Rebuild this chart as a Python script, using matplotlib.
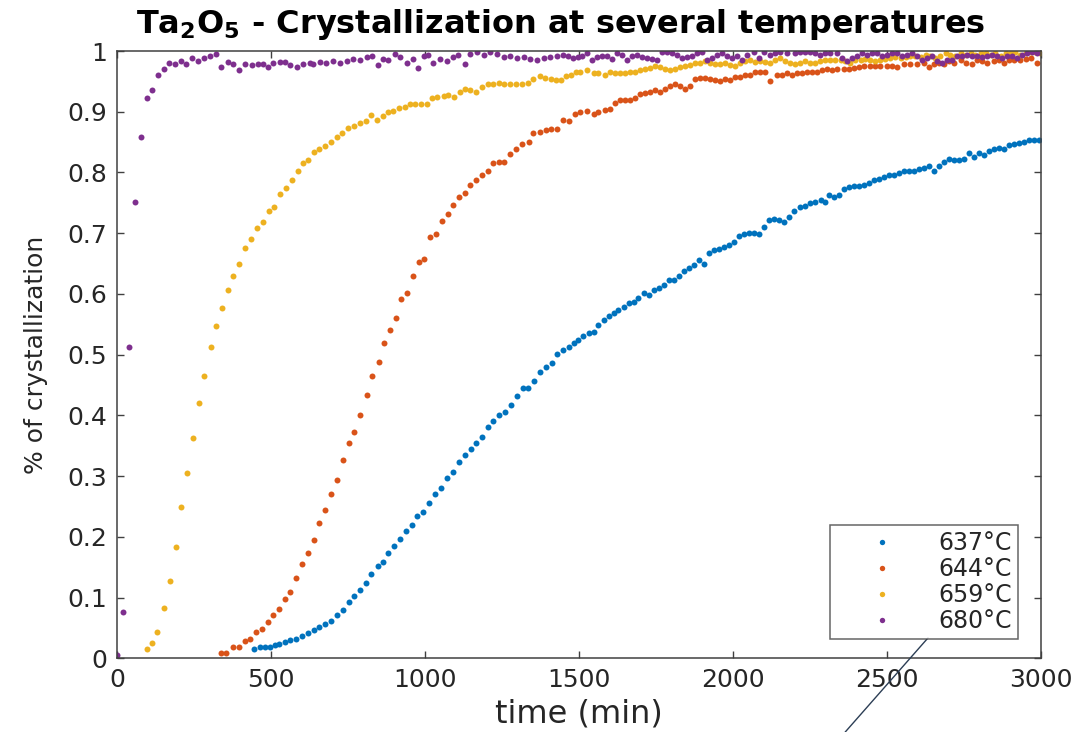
import matplotlib
matplotlib.use("Agg")
import matplotlib.pyplot as plt

# crystallized fraction vs time, one series per annealing temperature
t_637 = [446, 465, 481, 497, 513, 527, 544, 563, 582, 600, 620, 638, 657, 676, 694, 713, 732, 752, 770, 789,
         808, 826, 846, 864, 881, 900, 919, 937, 957, 975, 994, 1013, 1032, 1051,
         1070, 1092, 1111, 1130, 1148, 1165, 1186, 1203, 1222, 1241, 1259, 1279, 1297, 1317, 1335, 1355, 1373, 1393,
         1411, 1430, 1449, 1466, 1482, 1498, 1514, 1531, 1547, 1563, 1580, 1596, 1612, 1628, 1645, 1661, 1677, 1693,
         1710, 1726, 1742, 1758, 1775, 1791, 1807, 1823, 1840, 1856, 1872, 1888, 1905, 1921, 1937, 1953, 1970, 1986,
         2002, 2018, 2035, 2051, 2067, 2083, 2100, 2116, 2132, 2148, 2165, 2181,
         2198, 2219, 2235, 2251, 2267, 2284, 2300, 2313, 2327, 2343, 2360, 2376, 2392, 2408, 2425, 2441, 2457, 2473,
         2490, 2506, 2522, 2538, 2555, 2571, 2587, 2603, 2620, 2636, 2652, 2668, 2684, 2701, 2717, 2733, 2749, 2765,
         2782, 2798, 2814, 2830, 2847, 2863, 2879, 2895, 2912, 2928, 2944, 2960, 2977, 2993]
y_637 = [0.015, 0.018, 0.019, 0.018, 0.022, 0.023, 0.026, 0.030, 0.031, 0.036, 0.041, 0.047, 0.052, 0.056, 0.062,
         0.072, 0.080, 0.092, 0.103, 0.113, 0.124, 0.139, 0.152, 0.158, 0.174, 0.185, 0.196, 0.209, 0.220, 0.234,
         0.241, 0.255, 0.271, 0.281,
         0.297, 0.307, 0.324, 0.335, 0.344, 0.354, 0.365, 0.381, 0.391, 0.401, 0.405, 0.417, 0.432, 0.445, 0.445,
         0.457, 0.471, 0.480, 0.486, 0.501, 0.508, 0.513, 0.519, 0.524, 0.530, 0.536, 0.538, 0.549, 0.557, 0.563,
         0.568, 0.574, 0.579, 0.585, 0.587, 0.593, 0.601, 0.598, 0.606, 0.610, 0.615, 0.623, 0.623, 0.630, 0.637,
         0.642, 0.648, 0.656, 0.650, 0.667, 0.673, 0.674, 0.678, 0.681, 0.686, 0.695, 0.699, 0.700, 0.700, 0.699,
         0.711, 0.722, 0.723, 0.722, 0.719, 0.727,
         0.736, 0.743, 0.745, 0.750, 0.752, 0.754, 0.752, 0.763, 0.759, 0.763, 0.773, 0.776, 0.777, 0.777, 0.780,
         0.782, 0.787, 0.789, 0.793, 0.796, 0.796, 0.799, 0.802, 0.802, 0.803, 0.806, 0.807, 0.810, 0.802, 0.810,
         0.818, 0.822, 0.821, 0.820, 0.822, 0.832, 0.825, 0.832, 0.829, 0.835, 0.839, 0.840, 0.839, 0.846, 0.847,
         0.848, 0.851, 0.854, 0.854, 0.853]

t_644 = [336, 354, 376, 395, 414, 432, 451, 470, 489, 505, 527, 544, 563, 582, 600, 620, 638, 657, 676, 694,
         713, 732, 752, 770, 789,
         810, 827, 849, 868, 885, 906, 921, 943, 960, 979, 998, 1017, 1036, 1054, 1074, 1092, 1110, 1130, 1146, 1165,
         1184, 1203, 1222, 1240, 1257, 1276, 1296, 1314, 1336, 1352,
         1372, 1392, 1410, 1430, 1449, 1468, 1487, 1504, 1525, 1547, 1563, 1585, 1601, 1617, 1634, 1650, 1666, 1682,
         1699, 1715, 1731, 1747, 1764, 1780, 1796, 1812, 1829, 1845, 1861, 1877, 1894, 1910, 1926, 1942, 1959, 1975,
         1991, 2007, 2024, 2040, 2056, 2072, 2089, 2105, 2121, 2142, 2159, 2175,
         2192, 2208, 2224, 2240, 2256, 2272, 2288, 2304, 2320, 2338, 2359, 2376, 2392, 2408, 2424, 2446, 2462, 2478,
         2500, 2516, 2533, 2554, 2576, 2598, 2619, 2635, 2652, 2668, 2684, 2701, 2717, 2739, 2755, 2776, 2793, 2809,
         2825, 2847, 2863, 2879, 2896, 2912, 2933, 2950, 2966, 2988]
y_644 = [0.008, 0.009, 0.018, 0.018, 0.028, 0.031, 0.044, 0.048, 0.059, 0.072, 0.081, 0.098, 0.109, 0.133, 0.155,
         0.174, 0.194, 0.222, 0.244, 0.271, 0.294, 0.327, 0.354, 0.372, 0.401,
         0.433, 0.465, 0.488, 0.519, 0.540, 0.560, 0.591, 0.602, 0.629, 0.653, 0.657, 0.694, 0.699, 0.720, 0.731,
         0.746, 0.759, 0.767, 0.779, 0.787, 0.796, 0.803, 0.815, 0.818, 0.817, 0.831, 0.839, 0.847, 0.850, 0.865,
         0.866, 0.870, 0.872, 0.872, 0.886, 0.884, 0.897, 0.899, 0.901, 0.897, 0.899, 0.903, 0.905, 0.915, 0.919,
         0.920, 0.920, 0.923, 0.930, 0.931, 0.933, 0.935, 0.933, 0.937, 0.943, 0.946, 0.943, 0.937, 0.942, 0.954,
         0.955, 0.955, 0.954, 0.952, 0.950, 0.954, 0.953, 0.957, 0.958, 0.961, 0.961, 0.965, 0.966, 0.966, 0.950,
         0.961, 0.961, 0.963,
         0.961, 0.963, 0.964, 0.966, 0.965, 0.966, 0.968, 0.970, 0.969, 0.970, 0.970, 0.970, 0.972, 0.974, 0.976,
         0.975, 0.976, 0.975, 0.976, 0.975, 0.974, 0.979, 0.978, 0.979, 0.980, 0.974, 0.979, 0.981, 0.979, 0.983,
         0.980, 0.985, 0.981, 0.979, 0.985, 0.983, 0.981, 0.983, 0.985, 0.980, 0.985, 0.985, 0.985, 0.987, 0.989,
         0.980]

t_659 = [96, 114, 131, 153, 171, 190, 209, 228, 246, 266, 283, 304, 322, 340, 361, 378, 396, 416, 434, 454,
         473, 492, 510, 528, 548, 568, 586,
         604, 620, 639, 657, 675, 693, 713, 731, 751, 769, 789, 807, 823, 843, 862, 881, 897, 917, 935, 951, 968,
         986, 1005, 1022, 1040, 1060, 1076, 1094, 1112, 1130, 1146, 1166, 1184, 1203, 1222, 1241, 1257, 1276, 1296,
         1314, 1333, 1352, 1372, 1390,
         1408, 1425, 1441, 1457, 1473, 1489, 1504, 1525, 1547, 1563, 1585, 1601, 1617, 1634, 1650, 1666, 1682, 1699,
         1715, 1731, 1747, 1764, 1780, 1796, 1812, 1829, 1845, 1861, 1877, 1894, 1910, 1926, 1942, 1959, 1975, 1991,
         2007, 2024, 2040, 2056, 2072, 2089, 2105, 2121, 2137, 2154, 2170, 2186,
         2202, 2219, 2235, 2251, 2267, 2283, 2300, 2316, 2332, 2349, 2365, 2381, 2397, 2414, 2430, 2446, 2462, 2478,
         2495, 2511, 2527, 2544, 2560, 2576, 2592, 2609, 2625, 2641, 2657, 2673, 2690, 2706, 2722, 2739, 2755, 2771,
         2787, 2804, 2820, 2836, 2852, 2869, 2885, 2901, 2917, 2933, 2950, 2966, 2982, 2998]
y_659 = [0.016, 0.025, 0.044, 0.083, 0.128, 0.183, 0.249, 0.305, 0.362, 0.420, 0.465, 0.512, 0.548, 0.577, 0.606,
         0.630, 0.649, 0.676, 0.690, 0.709, 0.719, 0.736, 0.743, 0.764, 0.774, 0.787, 0.802,
         0.815, 0.821, 0.833, 0.839, 0.844, 0.850, 0.859, 0.865, 0.873, 0.876, 0.881, 0.885, 0.894, 0.887, 0.893,
         0.899, 0.902, 0.906, 0.907, 0.912, 0.912, 0.913, 0.912, 0.922, 0.924, 0.926, 0.928, 0.925, 0.933, 0.937,
         0.935, 0.932, 0.941, 0.945, 0.945, 0.948, 0.946, 0.945, 0.945, 0.946, 0.948, 0.954, 0.959, 0.956,
         0.954, 0.953, 0.952, 0.959, 0.961, 0.966, 0.966, 0.968, 0.964, 0.963, 0.961, 0.965, 0.963, 0.963, 0.964,
         0.965, 0.966, 0.969, 0.970, 0.972, 0.975, 0.974, 0.970, 0.968, 0.970, 0.974, 0.976, 0.977, 0.981, 0.980,
         0.983, 0.981, 0.979, 0.979, 0.980, 0.977, 0.975, 0.981, 0.983, 0.986, 0.982, 0.984, 0.982, 0.980, 0.986,
         0.988, 0.983, 0.981,
         0.979, 0.981, 0.983, 0.980, 0.981, 0.983, 0.985, 0.985, 0.985, 0.986, 0.983, 0.980, 0.985, 0.986, 0.987,
         0.985, 0.983, 0.986, 0.987, 0.988, 0.990, 0.988, 0.990, 0.991, 0.992, 0.990, 0.994, 0.992, 0.988, 0.991,
         0.996, 0.994, 0.992, 0.996, 0.994, 0.997, 0.994, 0.996, 0.997, 0.994, 0.996, 0.992, 0.997, 0.996, 0.998,
         0.994, 0.997, 0.999, 0.998, 0.997]

t_680 = [1, 20, 38, 58, 77, 96, 114, 133, 152, 168, 187, 207, 225, 244, 263, 283, 301, 320, 339, 359,
         377, 395, 415, 437, 458, 475, 491, 507, 529, 545, 561, 583, 605, 626,
         637, 659, 680, 702, 724, 745, 767, 789, 810, 827, 848, 865, 881, 903, 919, 940, 962, 978, 995, 1011,
         1027, 1049, 1070, 1092, 1108, 1130, 1146, 1168, 1190, 1211, 1233, 1255, 1276, 1298, 1320, 1341, 1363, 1385,
         1406, 1428,
         1447, 1463, 1479, 1495, 1511, 1525, 1542, 1558, 1574, 1590, 1607, 1623, 1639, 1655, 1672, 1688, 1704, 1720,
         1737, 1753, 1769, 1785, 1802, 1818, 1834, 1850, 1867, 1883, 1899, 1915, 1932, 1948, 1964, 1980, 1997, 2013,
         2029, 2045, 2067, 2083, 2099, 2121, 2137, 2154, 2175,
         2202, 2219, 2235, 2251, 2267, 2283, 2300, 2316, 2338, 2354, 2370, 2386, 2403, 2419, 2435, 2451, 2468, 2484,
         2500, 2516, 2533, 2549, 2565, 2581, 2598, 2614, 2630, 2646, 2663, 2679, 2695, 2711, 2728, 2744, 2760, 2776,
         2793, 2809, 2825, 2841, 2858, 2874, 2890, 2906, 2923, 2939, 2955, 2971, 2988]
y_680 = [0.005, 0.076, 0.512, 0.751, 0.858, 0.922, 0.935, 0.961, 0.971, 0.980, 0.979, 0.984, 0.979, 0.988, 0.984,
         0.988, 0.992, 0.995, 0.973, 0.982, 0.979, 0.969, 0.979, 0.977, 0.979, 0.979, 0.973, 0.980, 0.982, 0.982,
         0.977, 0.974, 0.979, 0.980,
         0.978, 0.982, 0.980, 0.984, 0.980, 0.984, 0.987, 0.985, 0.990, 0.992, 0.977, 0.987, 0.985, 0.995, 0.990,
         0.980, 0.987, 0.972, 0.992, 0.993, 0.980, 0.987, 0.984, 0.990, 0.993, 0.978, 0.995, 0.998, 0.993, 0.999,
         0.995, 0.990, 0.992, 0.989, 0.990, 0.987, 0.985, 0.988, 0.990, 0.992,
         0.994, 0.991, 0.988, 0.990, 0.992, 0.996, 0.985, 0.990, 0.992, 0.991, 0.987, 0.997, 0.994, 0.985, 0.992,
         0.994, 0.990, 0.988, 0.987, 0.985, 0.999, 0.999, 0.997, 0.994, 0.988, 0.990, 0.992, 0.996, 0.998, 0.986,
         0.988, 0.994, 0.996, 0.992, 0.988, 0.991, 0.986, 0.994, 0.999, 0.988, 0.998, 0.994, 0.997, 0.999, 0.996,
         0.996, 0.999, 0.999, 0.999, 0.996, 0.994, 0.996, 0.997, 0.996, 0.988, 0.983, 0.988, 0.992, 0.996, 0.994,
         0.997, 0.996, 0.992, 0.994, 0.997, 0.996, 0.991, 0.994, 0.996, 0.991, 0.986, 0.988, 0.992, 0.983, 0.981,
         0.986, 0.985, 0.992, 0.992, 0.994, 0.992, 0.991, 0.990, 0.992, 0.994, 0.991, 0.988, 0.992, 0.991, 0.988,
         0.994, 0.997, 0.998, 0.996]

series = [(t_637, y_637, "637°C", "#0072BD"),
          (t_644, y_644, "644°C", "#D95319"),
          (t_659, y_659, "659°C", "#EDB120"),
          (t_680, y_680, "680°C", "#7E2F8E")]

x_ticks = [0, 500, 1000, 1500, 2000, 2500, 3000]
y_ticks = [0, 0.1, 0.2, 0.3, 0.4, 0.5, 0.6, 0.7, 0.8, 0.9, 1]
y_tick_labels = ["0", "0.1", "0.2", "0.3", "0.4", "0.5", "0.6", "0.7", "0.8", "0.9", "1"]

txt = "#262626"
plt.rcParams["font.family"] = "DejaVu Sans"

fig = plt.figure(figsize=(10.91, 7.32), dpi=100)
ax = fig.add_axes([0.1073, 0.1007, 0.8469, 0.8296])

for t, y, lab, col in series:
    ax.plot(t, y, linestyle="none", marker="o", markersize=4.3, markeredgewidth=0,
            color=col, label=lab)

ax.set_xlim(0, 3000)
ax.set_ylim(0, 1)
ax.set_xticks(x_ticks)
ax.set_yticks(y_ticks)
ax.set_yticklabels(y_tick_labels)
ax.tick_params(direction="in", length=5, width=1, colors="#404040", labelcolor=txt,
               labelsize=18, top=True, right=True, pad=7)
for sp in ax.spines.values():
    sp.set_color("#404040")
    sp.set_linewidth(1.1)

ax.set_xlabel("time (min)", fontsize=23, color=txt, labelpad=5)
ax.set_ylabel("% of crystallization", fontsize=18, color=txt, labelpad=14)
ax.set_title("Ta$_\\mathbf{2}$O$_\\mathbf{5}$ - Crystallization at several temperatures",
             fontsize=23, fontweight="bold", color="black", pad=13, x=0.48)

leg = ax.legend(loc="lower right", bbox_to_anchor=(0.975, 0.032), borderaxespad=0,
                fontsize=17, frameon=True, fancybox=False, markerscale=0.9,
                handlelength=3.9, handletextpad=0.45, labelspacing=0.08, borderpad=0.25)
leg.get_frame().set_edgecolor("#404040")
leg.get_frame().set_linewidth(1.1)
for tx in leg.get_texts():
    tx.set_color(txt)

# thin pointer line running off the bottom edge
ax.annotate("", xy=(2639, 0.037), xytext=(2358, -0.125), xycoords="data",
            arrowprops=dict(arrowstyle="-", color="#2c3e55", lw=1.0),
            annotation_clip=False)

fig.savefig("out.png", dpi=100)
